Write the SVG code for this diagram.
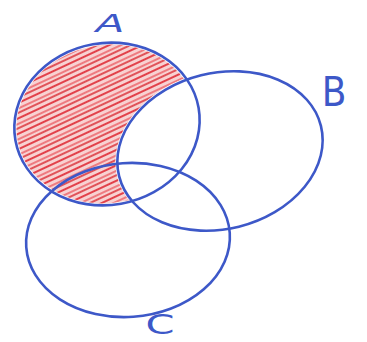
<svg xmlns="http://www.w3.org/2000/svg" width="367" height="342" viewBox="0 0 367 342">
<style>
.ring{fill:none;stroke:#3d58c8;stroke-width:2.6}
.txt{font-family:"DejaVu Sans",sans-serif;fill:#3d58c8}
</style>
<defs>
<pattern id="hatch" width="14" height="14" patternUnits="userSpaceOnUse" patternTransform="rotate(-25)">
<rect width="14" height="14" fill="#f8d2d2"/>
<line x1="0" y1="3" x2="14" y2="3" stroke="#e0303a" stroke-width="1.8"/>
<line x1="0" y1="8" x2="14" y2="8" stroke="#e84048" stroke-width="1.2"/>
<line x1="0" y1="12" x2="14" y2="12" stroke="#d82830" stroke-width="1.5"/>
</pattern>
<mask id="aMinusB">
<ellipse cx="107" cy="124" rx="91" ry="79" transform="rotate(-10 107 124)" fill="#fff"/>
<ellipse cx="220" cy="151" rx="106" ry="80" transform="rotate(-14 220 151)" fill="#000"/>
</mask>
</defs>
<g id="shade">
<rect x="0" y="30" width="230" height="190" fill="url(#hatch)" mask="url(#aMinusB)"/>
</g>
<g id="setA">
<ellipse class="ring" cx="107" cy="124" rx="93" ry="81" transform="rotate(-10 107 124)"/>
<text class="txt" font-size="30" font-style="italic" x="110" y="40" text-anchor="middle" transform="translate(110 0) scale(1.4 0.8) translate(-110 0)">A</text>
</g>
<g id="setB">
<ellipse class="ring" cx="220" cy="151" rx="104" ry="78" transform="rotate(-14 220 151)"/>
<text class="txt" font-size="40" x="334" y="106" text-anchor="middle" transform="translate(334 0) scale(0.9 1) translate(-334 0)">B</text>
</g>
<g id="setC">
<ellipse class="ring" cx="128" cy="240" rx="102" ry="77" transform="rotate(-4 128 240)"/>
<text class="txt" font-size="32" x="160" y="340" text-anchor="middle" transform="translate(160 0) scale(1.3 0.85) translate(-160 0) translate(0 53)">C</text>
</g>
</svg>
